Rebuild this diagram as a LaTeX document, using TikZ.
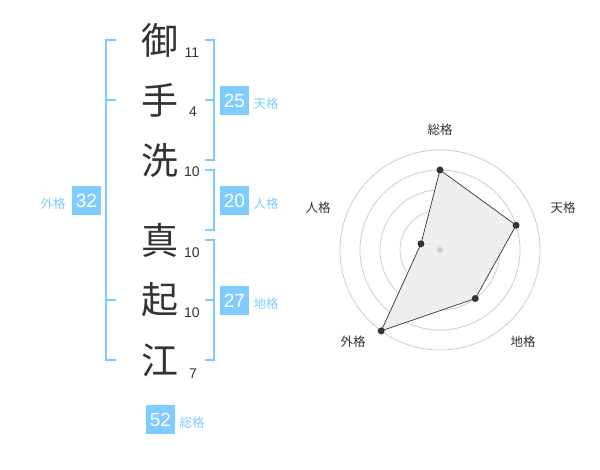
\documentclass[tikz,border=0pt]{standalone}
\usepackage{fontspec}
\usetikzlibrary{calc}
\setmainfont{Liberation Sans}
\newfontfamily\cjk{Noto Sans CJK JP}
\definecolor{sky}{RGB}{128,204,255}
\definecolor{ink}{RGB}{51,51,51}
\definecolor{ring}{RGB}{204,204,204}
\definecolor{area}{RGB}{238,238,238}
\begin{document}
\begin{tikzpicture}[x=1pt,y=-1pt,
  kanji/.style={font=\cjk\fontsize{37}{40}\selectfont, text=ink, inner sep=0pt},
  stroke/.style={font=\fontsize{14}{16}\selectfont, text=ink, inner sep=0pt, anchor=base},
  valbox/.style={fill=sky, text=white, minimum size=29pt, inner sep=0pt, font=\fontsize{19}{20}\selectfont},
  kaku/.style={font=\cjk\fontsize{12.5}{14}\selectfont, text=sky, inner sep=0pt},
  brack/.style={draw=sky, line width=2pt},
  axlabel/.style={font=\cjk\fontsize{12.5}{14}\selectfont, text=ink, inner sep=0pt},
  dot/.style={circle, fill=ink, minimum size=7pt, inner sep=0pt},
  ringline/.style={draw=ring, line width=0.8pt}]
\useasboundingbox (0,0) rectangle (600,470);
% kanji
\node[kanji] (k1) at (160,40) {御};
\node[kanji] (k2) at (160,100) {手};
\node[kanji] (k3) at (160,160) {洗};
\node[kanji] (k4) at (160,240) {真};
\node[kanji] (k5) at (160,300) {起};
\node[kanji] (k6) at (160,360) {江};
% strokes
\node[stroke] (s1) at (192,58) {11};
\node[stroke] (s2) at (193,117) {4};
\node[stroke] (s3) at (192,177) {10};
\node[stroke] (s4) at (192,258) {10};
\node[stroke] (s5) at (192,318) {10};
\node[stroke] (s6) at (193,378) {7};
% brackets
\draw[brack] (116,40) -- (106,40) -- (106,360) -- (116,360);
\draw[brack] (106,100) -- (116,100);
\draw[brack] (106,300) -- (116,300);
\draw[brack] (205,40) -- (214,40) -- (214,160) -- (205,160);
\draw[brack] (205,100) -- (214,100);
\draw[brack] (205,170) -- (214,170) -- (214,230) -- (205,230);
\draw[brack] (205,240) -- (214,240) -- (214,360) -- (205,360);
\draw[brack] (205,300) -- (214,300);
% value boxes
\node[valbox] (ten) at (234.5,100.5) {25};
\node[kaku] (tenl) at (266,104) {天格};
\node[valbox] (jin) at (234.5,200.5) {20};
\node[kaku] (jinl) at (266,204) {人格};
\node[valbox] (chi) at (234.5,300.5) {27};
\node[kaku] (chil) at (266,304) {地格};
\node[valbox] (gai) at (86.5,200.5) {32};
\node[kaku] (gail) at (53,204) {外格};
\node[valbox] (sou) at (160.5,419.5) {52};
\node[kaku] (soul) at (192,423) {総格};
% radar
\coordinate (c) at (440,250);
\foreach \r in {20,40,60,80,100} \draw[ringline] (c) circle[radius=\r pt];
\coordinate (p1) at ($(c)+(-90:80)$);
\coordinate (p2) at ($(c)+(-18:80)$);
\coordinate (p3) at ($(c)+(54:60)$);
\coordinate (p4) at ($(c)+(126:100)$);
\coordinate (p5) at ($(c)+(198:20)$);
\filldraw[fill=area, draw=ink, line width=0.7pt] (p1) -- (p2) -- (p3) -- (p4) -- (p5) -- cycle;
\node[circle, fill=ring, minimum size=6pt, inner sep=0pt] (cd) at (c) {};
\foreach \i in {1,...,5} \node[dot] (d\i) at (p\i) {};
\node[axlabel] (a1) at (440,130) {総格};
\node[axlabel] (a2) at (563,208) {天格};
\node[axlabel] (a3) at (523,342) {地格};
\node[axlabel] (a4) at (353,342) {外格};
\node[axlabel] (a5) at (318,208) {人格};
\end{tikzpicture}
\end{document}
